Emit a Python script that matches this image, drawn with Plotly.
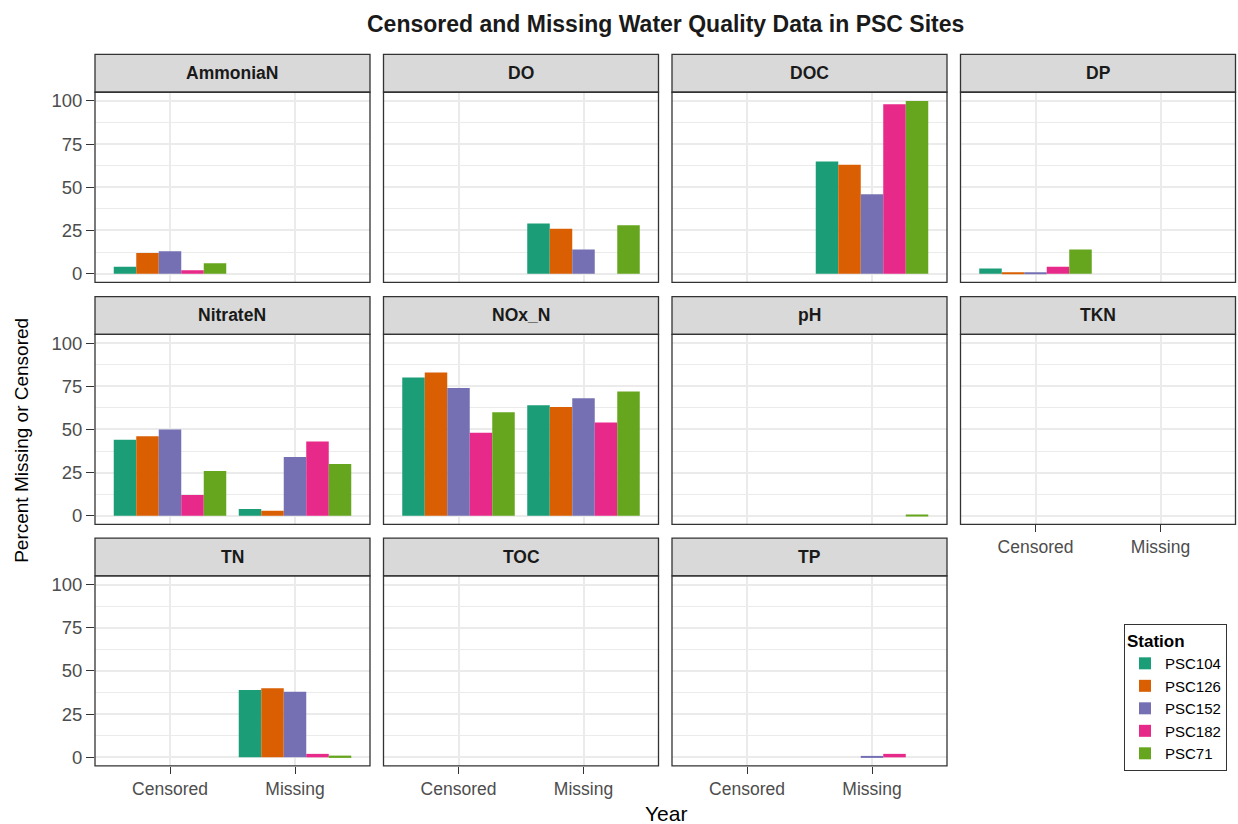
import plotly.graph_objects as go

# Stations (fill colours follow the Dark2 palette)
stations = ["PSC104", "PSC126", "PSC152", "PSC182", "PSC71"]
station_colors = ["#1B9E77", "#D95F02", "#7570B3", "#E7298A", "#66A61E"]

# Water-quality parameters, one facet each
parameters = ["AmmoniaN", "DO", "DOC", "DP", "NitrateN", "NOx_N",
              "pH", "TKN", "TN", "TOC", "TP"]
categories = ["Censored", "Missing"]

# Percent censored / missing, per station, in the order of `parameters`
psc104_censored = [4, 0, 0, 3, 44, 80, 0, 0, 0, 0, 0]
psc104_missing = [0, 29, 65, 0, 4, 64, 0, 0, 39, 0, 0]
psc126_censored = [12, 0, 0, 0.5, 46, 83, 0, 0, 0, 0, 0]
psc126_missing = [0, 26, 63, 0, 3, 63, 0, 0, 40, 0, 0]
psc152_censored = [13, 0, 0, 0.5, 50, 74, 0, 0, 0, 0, 0]
psc152_missing = [0, 14, 46, 0, 34, 68, 0, 0, 38, 0, 0.5]
psc182_censored = [2, 0, 0, 4, 12, 48, 0, 0, 0, 0, 0]
psc182_missing = [0, 0, 98, 0, 43, 54, 0, 0, 2, 0, 2]
psc71_censored = [6, 0, 0, 14, 26, 60, 0, 0, 0, 0, 0]
psc71_missing = [0, 28, 100, 0, 30, 72, 0.7, 0, 1, 0, 0]

censored_by_station = [psc104_censored, psc126_censored, psc152_censored,
                       psc182_censored, psc71_censored]
missing_by_station = [psc104_missing, psc126_missing, psc152_missing,
                      psc182_missing, psc71_missing]

y_ticks = [0, 25, 50, 75, 100]

# Page geometry (pixels)
W, H = 1238, 824
col_left = [95, 383.5, 672, 960.5]
panel_w = 275
row_top = [90.7, 334, 576.7]
panel_h = 191
strip_h = 38

FONT = "Arial, Liberation Sans, sans-serif"
BORDER = "#333333"
GRID = "#EBEBEB"

fig = go.Figure()
layout = dict(
    width=W, height=H,
    margin=dict(l=0, r=0, t=0, b=0),
    paper_bgcolor="white", plot_bgcolor="white",
    barmode="group", bargap=0.1, bargroupgap=0,
    font=dict(family=FONT, color="#1A1A1A"),
    showlegend=True,
)
shapes = []
annotations = []

for i, param in enumerate(parameters):
    row, col = divmod(i, 4)
    suffix = "" if i == 0 else str(i + 1)
    xa, ya = "x" + suffix, "y" + suffix
    x0 = col_left[col] / W
    x1 = (col_left[col] + panel_w) / W
    y1 = 1 - row_top[row] / H
    y0 = 1 - (row_top[row] + panel_h) / H

    for s, name in enumerate(stations):
        fig.add_trace(go.Bar(
            x=categories,
            y=[censored_by_station[s][i], missing_by_station[s][i]],
            name=name, legendgroup=name, showlegend=(i == 0),
            marker=dict(color=station_colors[s], line=dict(width=0)),
            xaxis=xa, yaxis=ya, hoverinfo="x+y+name",
        ))

    show_x = i in (7, 8, 9, 10)
    show_y = col == 0
    layout["xaxis" + suffix] = dict(
        domain=[x0, x1], anchor=ya, type="category",
        categoryorder="array", categoryarray=categories,
        range=[-0.6, 1.6], showgrid=True, gridcolor=GRID, gridwidth=1.5,
        zeroline=False, showline=False,
        ticks="outside" if show_x else "", ticklen=7, tickwidth=1.3,
        tickcolor=BORDER, showticklabels=show_x,
        tickfont=dict(size=17.5, color="#4D4D4D", family=FONT),
        fixedrange=True,
    )
    layout["yaxis" + suffix] = dict(
        domain=[y0, y1], anchor=xa, range=[-5, 105],
        tickvals=y_ticks, showgrid=True, gridcolor=GRID, gridwidth=1.5,
        minor=dict(tickvals=[12.5, 37.5, 62.5, 87.5], showgrid=True,
                   gridcolor=GRID, gridwidth=0.8, ticks=""),
        zeroline=False, showline=False,
        ticks="outside" if show_y else "", ticklen=8, tickwidth=1.3,
        tickcolor=BORDER, showticklabels=show_y,
        tickfont=dict(size=18.5, color="#4D4D4D", family=FONT),
        fixedrange=True,
    )

    # strip background and label
    shapes.append(dict(
        type="rect", xref="paper", yref="paper",
        x0=x0, x1=x1, y0=y1, y1=1 - (row_top[row] - strip_h) / H,
        fillcolor="#D9D9D9", line=dict(color=BORDER, width=1.3), layer="above",
    ))
    annotations.append(dict(
        text="<b>%s</b>" % param, xref="paper", yref="paper",
        x=(x0 + x1) / 2, y=1 - (row_top[row] - strip_h / 2) / H,
        xanchor="center", yanchor="middle", showarrow=False,
        font=dict(size=17.5, color="#1A1A1A", family=FONT),
    ))
    # panel border
    shapes.append(dict(
        type="rect", xref="paper", yref="paper",
        x0=x0, x1=x1, y0=y0, y1=y1,
        fillcolor="rgba(0,0,0,0)", line=dict(color=BORDER, width=1.3),
        layer="above",
    ))

# Title and axis titles
annotations.append(dict(
    text="<b>Censored and Missing Water Quality Data in PSC Sites</b>",
    xref="paper", yref="paper", x=665.5 / W, y=1 - 22 / H,
    xanchor="center", yanchor="middle", showarrow=False,
    font=dict(size=23, color="#1A1A1A", family=FONT),
))
annotations.append(dict(
    text="Year", xref="paper", yref="paper", x=665.5 / W, y=1 - 815 / H,
    xanchor="center", yanchor="middle", showarrow=False,
    font=dict(size=21, color="black", family=FONT),
))
annotations.append(dict(
    text="Percent Missing or Censored", xref="paper", yref="paper",
    x=22 / W, y=1 - 441 / H, textangle=-90,
    xanchor="center", yanchor="middle", showarrow=False,
    font=dict(size=19, color="black", family=FONT),
))

layout["shapes"] = shapes
layout["annotations"] = annotations
layout["legend"] = dict(
    title=dict(text="<b>Station</b>", font=dict(size=17, color="black", family=FONT)),
    x=1124 / W, xanchor="left", y=1 - 625 / H, yanchor="top",
    bgcolor="white", bordercolor=BORDER, borderwidth=1,
    font=dict(size=15, color="black", family=FONT),
    tracegroupgap=0, itemwidth=30,
)

fig.update_layout(**layout)
fig.write_html("out.html")
